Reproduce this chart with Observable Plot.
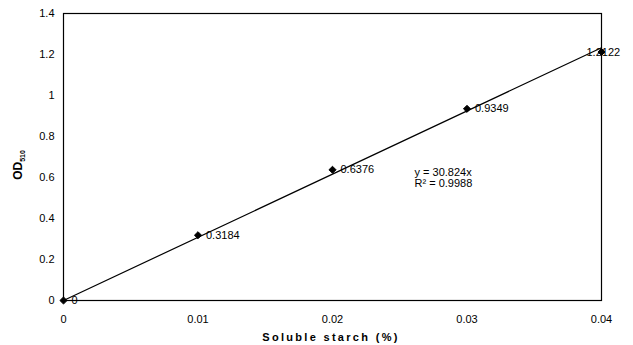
<!DOCTYPE html>
<html><head><meta charset="utf-8">
<script src="https://cdn.jsdelivr.net/npm/d3@7"></script>
<script src="https://cdn.jsdelivr.net/npm/@observablehq/plot@0.6"></script>
<style>
body{margin:0;background:#fff;}
#chart{position:relative;width:633px;height:345px;}
svg{font-family:"Liberation Sans",Arial,sans-serif;}
</style>
</head><body><div id="chart"></div>
<script>
const starch = [0, 0.01, 0.02, 0.03, 0.04];
const od = [0, 0.3184, 0.6376, 0.9349, 1.2122];
const pointLabels = ["0", "0.3184", "0.6376", "0.9349", "1.2122"];
const slope = 30.824;
const equationLines = ["y = 30.824x", "R\u00b2 = 0.9988"];
const xTicks = [0, 0.01, 0.02, 0.03, 0.04];
const yTicks = [0, 0.2, 0.4, 0.6, 0.8, 1, 1.2, 1.4];

const pts = starch.map((x, i) => ({x, y: od[i], label: pointLabels[i], last: i === starch.length - 1}));
const trend = [{x: starch[0], y: slope * starch[0]}, {x: starch[starch.length-1], y: slope * starch[starch.length-1]}];
const eq = equationLines.map((t, i) => ({t, i}));

const chart = Plot.plot({
  width: 633, height: 345,
  marginLeft: 63, marginRight: 32, marginTop: 13, marginBottom: 45,
  style: {fontSize: "11px", color: "#000", background: "#fff"},
  x: {domain: [0, 0.04], ticks: xTicks, tickFormat: d => String(+d.toFixed(2)), tickSize: 0, tickPadding: 15, label: null},
  y: {domain: [0, 1.4], ticks: yTicks, tickFormat: d => String(+d.toFixed(1)), tickSize: 0, tickPadding: 9, label: null},
  marks: [
    Plot.frame({stroke: "#000", strokeWidth: 1.2}),
    Plot.line(trend, {x: "x", y: "y", stroke: "#000", strokeWidth: 1.2}),
    Plot.dot(pts, {x: "x", y: "y", symbol: "diamond2", fill: "#000", stroke: "#000", strokeWidth: 1, r: 3.2}),
    Plot.text(pts.filter(d => !d.last), {x: "x", y: "y", text: "label", dx: 8, textAnchor: "start", fill: "#000", fontSize: 11}),
    Plot.text(pts.filter(d => d.last), {x: "x", y: "y", text: "label", dx: -15, textAnchor: "start", fill: "#000", fontSize: 11}),
    Plot.text(eq, {x: () => 0.0261, y: d => 0.624 - d.i * 0.055, text: "t", textAnchor: "start", fill: "#000", fontSize: 11})
  ]
});
document.getElementById("chart").appendChild(chart);

const svg = d3.select(chart);
svg.append("text")
  .attr("x", 331).attr("y", 341)
  .attr("text-anchor", "middle")
  .attr("font-weight", "bold").attr("font-size", 11).attr("letter-spacing", "2.3px")
  .text("Soluble starch (%)");
const yl = svg.append("text")
  .attr("transform", "translate(22,165) rotate(-90)")
  .attr("text-anchor", "middle")
  .attr("font-weight", "bold").attr("font-size", 12);
yl.append("tspan").text("OD");
yl.append("tspan").attr("font-size", 7).attr("dy", 3).text("510");
</script>
</body></html>
